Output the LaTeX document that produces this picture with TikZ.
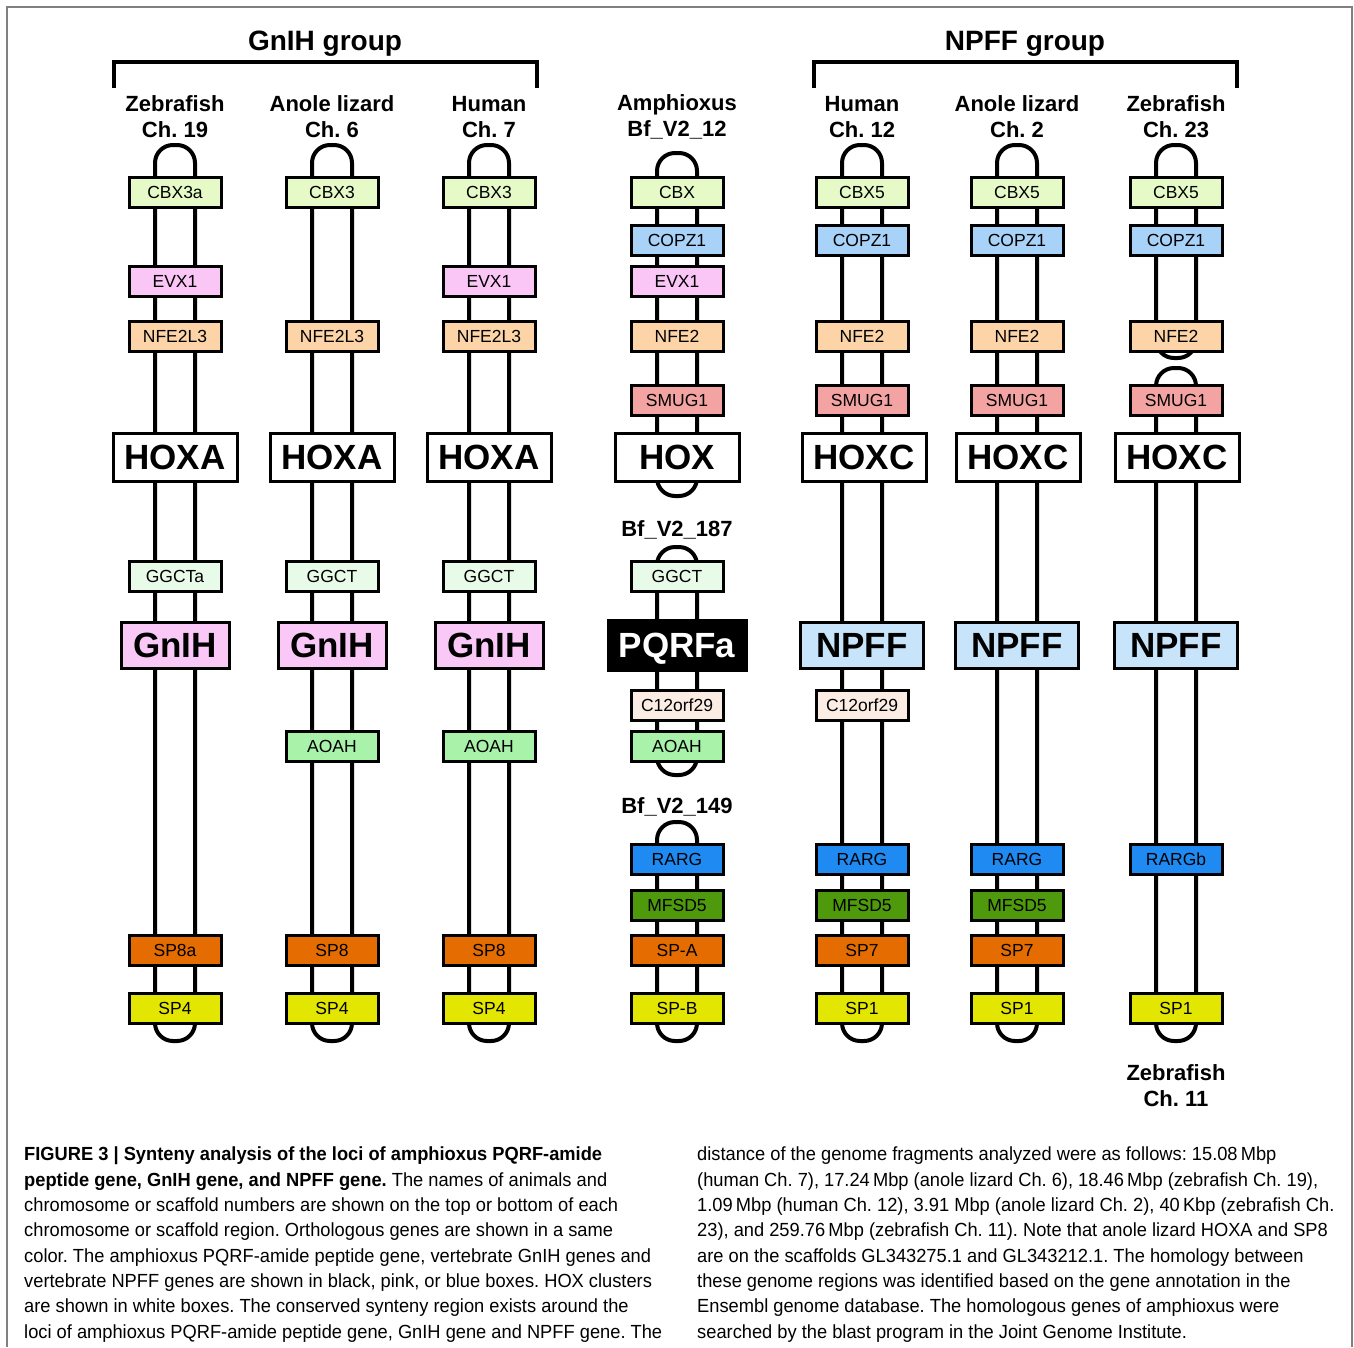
\documentclass[tikz,border=0pt]{standalone}
\usepackage{fontspec}
\setmainfont{Liberation Sans}
\newfontfamily\capfont[FakeStretch=0.962]{Liberation Sans}
\usepackage{tikz}
\usetikzlibrary{positioning}
\definecolor{c_cbx}{HTML}{E6FAC8}
\definecolor{c_copz}{HTML}{A8D2F7}
\definecolor{c_evx}{HTML}{F9C6F6}
\definecolor{c_nfe}{HTML}{FCD4A8}
\definecolor{c_smug}{HTML}{F4A3A3}
\definecolor{c_ggct}{HTML}{E8FAE8}
\definecolor{c_gnih}{HTML}{F9C8F7}
\definecolor{c_npff}{HTML}{C8E4FA}
\definecolor{c_corf}{HTML}{FBEDE4}
\definecolor{c_aoah}{HTML}{A9F2A9}
\definecolor{c_rarg}{HTML}{1F8AF2}
\definecolor{c_mfsd}{HTML}{4F9A0C}
\definecolor{c_spo}{HTML}{E46C00}
\definecolor{c_spy}{HTML}{E3E600}
\tikzset{
	chrom/.style = {
		draw=black,
		line width=4pt,
		rounded corners=18pt,
		minimum width=40pt,
		inner sep=0pt
	},
	gene/.style = {
		draw=black,
		line width=3pt,
		minimum width=92pt,
		minimum height=30pt,
		inner sep=0pt,
		text depth=0pt,
		font=\fontsize{17.5}{20}\selectfont
	},
	gene_hox/.style = {
		gene,
		fill=white,
		minimum width=124pt,
		minimum height=48pt,
		font=\fontsize{35}{40}\selectfont\bfseries
	},
	gene_big/.style = {
		gene_hox,
		minimum width=108pt,
		minimum height=46pt
	},
	head/.style = {
		align=center,
		inner sep=0pt,
		font=\fontsize{22}{26}\selectfont\bfseries
	},
	group/.style = {
		inner sep=0pt,
		anchor=base,
		font=\fontsize{28}{32}\selectfont\bfseries
	},
	bracket/.style = {
		line width=4pt
	},
	caption/.style = {
		align=left,
		inner sep=0pt,
		anchor=north west,
		font=\capfont\fontsize{19}{25.3}\selectfont
	}
}

\begin{document}
\frenchspacing
\begin{tikzpicture}[x=1pt,y=-1pt]
\useasboundingbox (0,0) rectangle (1354,1347);
\draw[gray,line width=1.5pt] (7,1347) -- (7,7) -- (1352,7) -- (1352,1347);

% group brackets
\node[group] (gnih_grp) at (325,50) {GnIH group};
\node[group] (npff_grp) at (1025,50) {NPFF group};
\coordinate (gnih_l) at (114,88);
\coordinate (gnih_r) at (537,88);
\coordinate (npff_l) at (814,88);
\coordinate (npff_r) at (1237,88);
\draw[bracket] (gnih_l) -- ++(0,-26) -| (gnih_r);
\draw[bracket] (npff_l) -- ++(0,-26) -| (npff_r);

% species labels
\node[head] (z19_lab) at (175,117) {Zebrafish\\Ch. 19};
\node[head] (a6_lab) at (332,117) {Anole lizard\\Ch. 6};
\node[head] (h7_lab) at (489,117) {Human\\Ch. 7};
\node[head] (amp_lab) at (677,117) {Amphioxus\\Bf\_V2\_12};
\node[head] (h12_lab) at (862,117) {Human\\Ch. 12};
\node[head] (a2_lab) at (1017,117) {Anole lizard\\Ch. 2};
\node[head] (z23_lab) at (1176,117) {Zebrafish\\Ch. 23};
\node[head] (amp_lab2) at (677,530) {Bf\_V2\_187};
\node[head] (amp_lab3) at (677,807) {Bf\_V2\_149};
\node[head] (z11_lab) at (1176,1086) {Zebrafish\\Ch. 11};

% chromosomes
\node[chrom, minimum height=896pt] (z19_chr) at (175,593) {};
\node[chrom, minimum height=896pt] (a6_chr) at (332,593) {};
\node[chrom, minimum height=896pt] (h7_chr) at (489,593) {};
\node[chrom, minimum height=343pt] (amp_chr1) at (677,324.5) {};
\node[chrom, minimum height=228pt] (amp_chr2) at (677,661) {};
\node[chrom, minimum height=219pt] (amp_chr3) at (677,931.5) {};
\node[chrom, minimum height=896pt] (h12_chr) at (862,593) {};
\node[chrom, minimum height=896pt] (a2_chr) at (1017,593) {};
\node[chrom, minimum height=213pt] (z23_chr1) at (1176,251.5) {};
\node[chrom, minimum height=673pt] (z23_chr2) at (1176,704.5) {};

% zebrafish ch. 19
\node[gene, fill=c_cbx] (z19_cbx) at (175,192) {CBX3a};
\node[gene, fill=c_evx] (z19_evx) at (175,281) {EVX1};
\node[gene, fill=c_nfe] (z19_nfe) at (175,336) {NFE2L3};
\node[gene_hox] (z19_hox) at (175,457) {HOXA};
\node[gene, fill=c_ggct] (z19_ggct) at (175,576) {GGCTa};
\node[gene_big, fill=c_gnih] (z19_gnih) at (175,645) {GnIH};
\node[gene, fill=c_spo] (z19_sp8) at (175,950) {SP8a};
\node[gene, fill=c_spy] (z19_sp4) at (175,1008) {SP4};

% anole lizard ch. 6
\node[gene, fill=c_cbx] (a6_cbx) at (332,192) {CBX3};
\node[gene, fill=c_nfe] (a6_nfe) at (332,336) {NFE2L3};
\node[gene_hox] (a6_hox) at (332,457) {HOXA};
\node[gene, fill=c_ggct] (a6_ggct) at (332,576) {GGCT};
\node[gene_big, fill=c_gnih] (a6_gnih) at (332,645) {GnIH};
\node[gene, fill=c_aoah] (a6_aoah) at (332,746) {AOAH};
\node[gene, fill=c_spo] (a6_sp8) at (332,950) {SP8};
\node[gene, fill=c_spy] (a6_sp4) at (332,1008) {SP4};

% human ch. 7
\node[gene, fill=c_cbx] (h7_cbx) at (489,192) {CBX3};
\node[gene, fill=c_evx] (h7_evx) at (489,281) {EVX1};
\node[gene, fill=c_nfe] (h7_nfe) at (489,336) {NFE2L3};
\node[gene_hox] (h7_hox) at (489,457) {HOXA};
\node[gene, fill=c_ggct] (h7_ggct) at (489,576) {GGCT};
\node[gene_big, fill=c_gnih] (h7_gnih) at (489,645) {GnIH};
\node[gene, fill=c_aoah] (h7_aoah) at (489,746) {AOAH};
\node[gene, fill=c_spo] (h7_sp8) at (489,950) {SP8};
\node[gene, fill=c_spy] (h7_sp4) at (489,1008) {SP4};

% amphioxus
\node[gene, fill=c_cbx] (amp_cbx) at (677,192) {CBX};
\node[gene, fill=c_copz] (amp_copz) at (677,240) {COPZ1};
\node[gene, fill=c_evx] (amp_evx) at (677,281) {EVX1};
\node[gene, fill=c_nfe] (amp_nfe) at (677,336) {NFE2};
\node[gene, fill=c_smug] (amp_smug) at (677,400) {SMUG1};
\node[gene_hox] (amp_hox) at (677,457) {HOX};
\node[gene, fill=c_ggct] (amp_ggct) at (677,576) {GGCT};
\node[gene_big, fill=black, text=white, minimum width=138pt, minimum height=50pt] (amp_pqrf) at (677,645) {PQRFa};
\node[gene, fill=c_corf] (amp_corf) at (677,705) {C12orf29};
\node[gene, fill=c_aoah] (amp_aoah) at (677,746) {AOAH};
\node[gene, fill=c_rarg] (amp_rarg) at (677,859) {RARG};
\node[gene, fill=c_mfsd] (amp_mfsd) at (677,905) {MFSD5};
\node[gene, fill=c_spo] (amp_spa) at (677,950) {SP-A};
\node[gene, fill=c_spy] (amp_spb) at (677,1008) {SP-B};

% human ch. 12
\node[gene, fill=c_cbx] (h12_cbx) at (862,192) {CBX5};
\node[gene, fill=c_copz] (h12_copz) at (862,240) {COPZ1};
\node[gene, fill=c_nfe] (h12_nfe) at (862,336) {NFE2};
\node[gene, fill=c_smug] (h12_smug) at (862,400) {SMUG1};
\node[gene_hox] (h12_hox) at (864,457) {HOXC};
\node[gene_big, fill=c_npff, minimum width=123pt] (h12_npff) at (862,645) {NPFF};
\node[gene, fill=c_corf] (h12_corf) at (862,705) {C12orf29};
\node[gene, fill=c_rarg] (h12_rarg) at (862,859) {RARG};
\node[gene, fill=c_mfsd] (h12_mfsd) at (862,905) {MFSD5};
\node[gene, fill=c_spo] (h12_sp7) at (862,950) {SP7};
\node[gene, fill=c_spy] (h12_sp1) at (862,1008) {SP1};

% anole lizard ch. 2
\node[gene, fill=c_cbx] (a2_cbx) at (1017,192) {CBX5};
\node[gene, fill=c_copz] (a2_copz) at (1017,240) {COPZ1};
\node[gene, fill=c_nfe] (a2_nfe) at (1017,336) {NFE2};
\node[gene, fill=c_smug] (a2_smug) at (1017,400) {SMUG1};
\node[gene_hox] (a2_hox) at (1018,457) {HOXC};
\node[gene_big, fill=c_npff, minimum width=123pt] (a2_npff) at (1017,645) {NPFF};
\node[gene, fill=c_rarg] (a2_rarg) at (1017,859) {RARG};
\node[gene, fill=c_mfsd] (a2_mfsd) at (1017,905) {MFSD5};
\node[gene, fill=c_spo] (a2_sp7) at (1017,950) {SP7};
\node[gene, fill=c_spy] (a2_sp1) at (1017,1008) {SP1};

% zebrafish ch. 23 / ch. 11
\node[gene, fill=c_cbx] (z23_cbx) at (1176,192) {CBX5};
\node[gene, fill=c_copz] (z23_copz) at (1176,240) {COPZ1};
\node[gene, fill=c_nfe] (z23_nfe) at (1176,336) {NFE2};
\node[gene, fill=c_smug] (z23_smug) at (1176,400) {SMUG1};
\node[gene_hox] (z23_hox) at (1177,457) {HOXC};
\node[gene_big, fill=c_npff, minimum width=123pt] (z23_npff) at (1176,645) {NPFF};
\node[gene, fill=c_rarg] (z23_rarg) at (1176,859) {RARGb};
\node[gene, fill=c_spy] (z23_sp1) at (1176,1008) {SP1};

% caption
\node[caption] (cap_l) at (24,1147) {\textbf{FIGURE 3 | Synteny analysis of the loci of amphioxus PQRF-amide}\\
\textbf{peptide gene, GnIH gene, and NPFF gene.} The names of animals and\\
chromosome or scaffold numbers are shown on the top or bottom of each\\
chromosome or scaffold region. Orthologous genes are shown in a same\\
color. The amphioxus PQRF-amide peptide gene, vertebrate GnIH genes and\\
vertebrate NPFF genes are shown in black, pink, or blue boxes. HOX clusters\\
are shown in white boxes. The conserved synteny region exists around the\\
loci of amphioxus PQRF-amide peptide gene, GnIH gene and NPFF gene. The};
\node[caption] (cap_r) at (697,1147) {distance of the genome fragments analyzed were as follows: 15.08\,Mbp\\
(human Ch. 7), 17.24\,Mbp (anole lizard Ch. 6), 18.46\,Mbp (zebrafish Ch. 19),\\
1.09\,Mbp (human Ch. 12), 3.91 Mbp (anole lizard Ch. 2), 40\,Kbp (zebrafish Ch.\\
23), and 259.76\,Mbp (zebrafish Ch. 11). Note that anole lizard HOXA and SP8\\
are on the scaffolds GL343275.1 and GL343212.1. The homology between\\
these genome regions was identified based on the gene annotation in the\\
Ensembl genome database. The homologous genes of amphioxus were\\
searched by the blast program in the Joint Genome Institute.};
\end{tikzpicture}
\end{document}
